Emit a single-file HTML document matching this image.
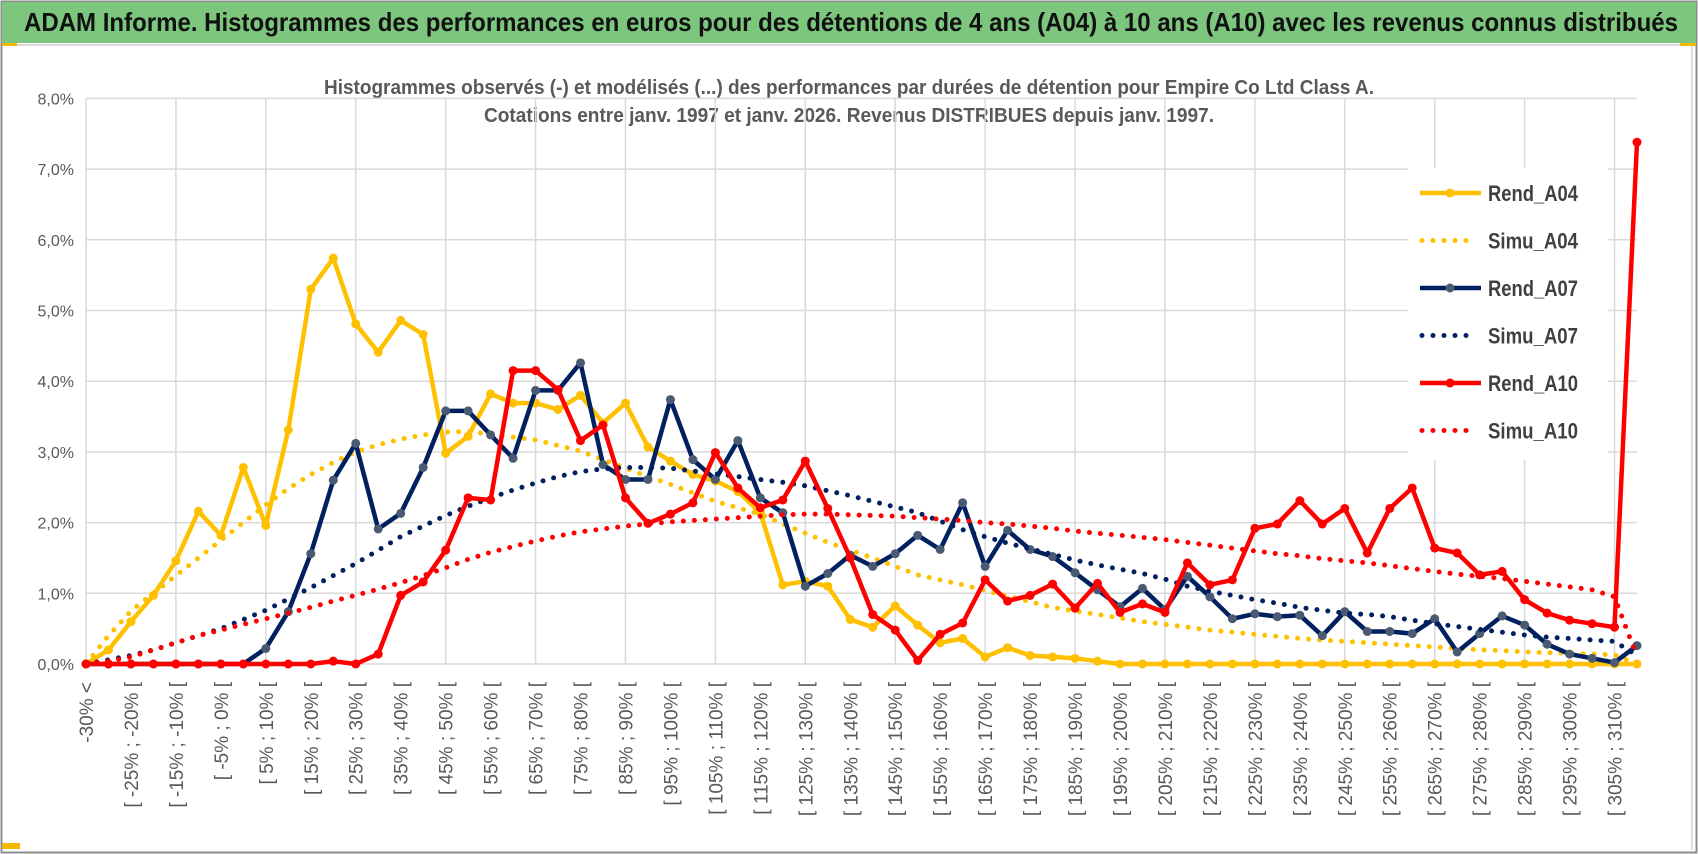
<!DOCTYPE html>
<html><head><meta charset="utf-8"><style>
html,body{margin:0;padding:0;background:#fff;}
svg{display:block;font-family:"Liberation Sans",sans-serif;}
</style></head><body>
<svg id="chart" width="1698" height="854" viewBox="0 0 1698 854">
  <rect x="0" y="0" width="1698" height="854" fill="#fff"/>
  <rect x="1.5" y="1.5" width="1695" height="851" fill="none" stroke="#8c8c8c" stroke-width="2"/>
  <rect x="2" y="2" width="1694" height="41" fill="#7dc67e"/>
  <line x1="2" y1="45" x2="1696" y2="45" stroke="#d9d9d9" stroke-width="2"/>
  <rect x="2" y="43" width="15" height="3" fill="#f5b800"/>
  <rect x="1680" y="43" width="16" height="3" fill="#f5b800"/>
  <rect x="2" y="843" width="18" height="6" fill="#f5b800"/>
  <line x1="1692" y1="46" x2="1692" y2="850" stroke="#bfbfbf" stroke-width="1"/>
  <text x="24" y="31" font-size="26" font-weight="bold" fill="#111" textLength="1654" lengthAdjust="spacingAndGlyphs">ADAM Informe. Histogrammes des performances en euros pour des détentions de 4 ans (A04) à 10 ans (A10) avec les revenus connus distribués</text>
  <text x="849" y="94" font-size="20" font-weight="bold" fill="#595959" text-anchor="middle" textLength="1050" lengthAdjust="spacingAndGlyphs">Histogrammes observés (-) et modélisés (...) des performances par durées de détention pour Empire Co Ltd Class A.</text>
  <text x="849" y="122" font-size="20" font-weight="bold" fill="#595959" text-anchor="middle" textLength="730" lengthAdjust="spacingAndGlyphs">Cotations entre janv. 1997 et janv. 2026. Revenus DISTRIBUES depuis janv. 1997.</text>
  <g id="grid"></g>
  <g id="yticks"></g>
  <g id="xticks"></g>
  <g id="series"></g>
  <g id="legend"></g>
</svg>
<script>
const categories = [];
const yTicks = ["0,0%","1,0%","2,0%","3,0%","4,0%","5,0%","6,0%","7,0%","8,0%"];
const rendA04 = [0,0.2,0.6,0.97,1.46,2.16,1.82,2.78,1.96,3.31,5.3,5.74,4.81,4.41,4.86,4.66,2.98,3.22,3.82,3.69,3.69,3.6,3.8,3.41,3.69,3.07,2.87,2.68,2.59,2.44,2.14,1.12,1.17,1.1,0.63,0.52,0.82,0.55,0.3,0.36,0.1,0.23,0.12,0.1,0.08,0.04,0,0,0,0,0,0,0,0,0,0,0,0,0,0,0,0,0,0,0,0,0,0,0,0];
const simuA04 = [0,0.4,0.75,1.0,1.25,1.5,1.75,2.0,2.25,2.48,2.68,2.85,3.0,3.1,3.18,3.24,3.28,3.29,3.25,3.21,3.17,3.09,3.01,2.89,2.77,2.65,2.54,2.42,2.3,2.21,2.12,1.98,1.85,1.72,1.61,1.5,1.38,1.26,1.19,1.12,1.04,0.96,0.88,0.8,0.75,0.7,0.65,0.6,0.56,0.52,0.48,0.45,0.42,0.39,0.36,0.34,0.32,0.3,0.28,0.26,0.24,0.22,0.2,0.19,0.17,0.16,0.15,0.14,0.13,0.0];
const rendA07 = [0,0,0,0,0,0,0,0,0.22,0.74,1.56,2.6,3.12,1.91,2.13,2.78,3.58,3.58,3.24,2.91,3.87,3.87,4.26,2.82,2.61,2.61,3.74,2.89,2.61,3.16,2.35,2.14,1.1,1.28,1.54,1.38,1.56,1.82,1.62,2.28,1.38,1.89,1.62,1.52,1.29,1.05,0.81,1.07,0.77,1.24,0.95,0.64,0.71,0.67,0.69,0.4,0.74,0.46,0.46,0.43,0.64,0.17,0.43,0.68,0.55,0.28,0.14,0.08,0.02,0.26];
const simuA07 = [0,0.06,0.12,0.2,0.3,0.4,0.5,0.63,0.76,0.92,1.08,1.25,1.42,1.61,1.8,1.95,2.1,2.23,2.35,2.46,2.56,2.65,2.72,2.76,2.78,2.78,2.77,2.73,2.69,2.65,2.61,2.57,2.52,2.45,2.38,2.3,2.22,2.14,2.02,1.9,1.8,1.71,1.63,1.55,1.47,1.4,1.34,1.28,1.2,1.1,1.03,0.97,0.91,0.86,0.8,0.76,0.72,0.7,0.67,0.62,0.57,0.53,0.49,0.45,0.41,0.38,0.36,0.34,0.32,0.12];
const rendA10 = [0,0,0,0,0,0,0,0,0,0,0,0.04,0,0.14,0.97,1.16,1.61,2.35,2.32,4.15,4.15,3.88,3.16,3.38,2.35,1.99,2.12,2.28,2.99,2.49,2.21,2.32,2.87,2.2,1.5,0.7,0.48,0.05,0.42,0.58,1.19,0.89,0.97,1.13,0.79,1.14,0.73,0.85,0.73,1.43,1.12,1.19,1.92,1.98,2.31,1.98,2.2,1.57,2.2,2.49,1.64,1.57,1.26,1.31,0.91,0.72,0.62,0.57,0.52,7.38];
const simuA10 = [0,0.04,0.1,0.2,0.3,0.4,0.48,0.56,0.64,0.72,0.8,0.89,0.97,1.06,1.15,1.25,1.36,1.48,1.58,1.66,1.74,1.81,1.87,1.91,1.95,1.98,2.01,2.03,2.05,2.07,2.09,2.11,2.12,2.12,2.11,2.1,2.09,2.07,2.05,2.03,2.0,1.98,1.95,1.92,1.88,1.85,1.82,1.79,1.76,1.72,1.68,1.64,1.6,1.56,1.53,1.49,1.46,1.43,1.39,1.35,1.31,1.27,1.24,1.21,1.17,1.13,1.09,1.05,0.95,0.1];

categories.push("-30% <");
for (let k = 1; k < 70; k++) categories.push("[ " + (-35 + 5*k) + "% ; " + (-30 + 5*k) + "% [");

const NS = "http://www.w3.org/2000/svg";
const X0 = 86, X1 = 1637, Y0 = 664, PER = 70.7;
function xs(i){ return X0 + (X1 - X0) * i / (categories.length - 1); }
function ys(v){ return Y0 - v * PER; }
function mk(tag, attrs, parent){
  const e = document.createElementNS(NS, tag);
  for (const k in attrs) e.setAttribute(k, attrs[k]);
  parent.appendChild(e);
  return e;
}
const grid = document.getElementById("grid");
const yt = document.getElementById("yticks");
yTicks.forEach((t, i) => {
  const l = mk("line", {x1: X0, x2: X1, y1: ys(i), y2: ys(i), stroke: "#d9d9d9", "stroke-width": 1.5}, grid);
  
  
  const tx = mk("text", {x: 74, y: ys(i) + 6, "font-size": 16, fill: "#595959", "text-anchor": "end"}, yt);
  tx.textContent = t;
  
  
});
for (let i = 0; i < categories.length; i += 4) {
  const l = mk("line", {x1: xs(i), x2: xs(i), y1: ys(8), y2: Y0, stroke: "#d9d9d9", "stroke-width": 1.5}, grid);
  
  
}
const xt = document.getElementById("xticks");
for (let i = 0; i < categories.length; i += 2) {
  const x = xs(i) + 7, y = 682;
  const tx = mk("text", {x: x, y: y, "font-size": 19, fill: "#595959", "text-anchor": "end", transform: "rotate(-90 " + x + " " + y + ")"}, xt);
  tx.textContent = categories[i];
  
  
}
const ser = document.getElementById("series");
function pts(arr){ return arr.map((v, i) => xs(i).toFixed(1) + "," + ys(v).toFixed(1)).join(" "); }
function solid(arr, color, mcolor, name){
  const g = mk("g", {}, ser);
  
  
  const pl = mk("polyline", {points: pts(arr), fill: "none", stroke: color, "stroke-width": 4.5, "stroke-linejoin": "round"}, g);
  
  
  arr.forEach((v, i) => {
    const c = mk("circle", {cx: xs(i), cy: ys(v), r: 4.5, fill: mcolor}, g);
    
    
  });
}
function dotted(arr, color, name){
  const pl = mk("polyline", {points: pts(arr), fill: "none", stroke: color, "stroke-width": 5, "stroke-linecap": "round", "stroke-dasharray": "0 11"}, ser);
  
  
}
solid(rendA04, "#ffc000", "#ffc000", "rend-a04-series");
dotted(simuA04, "#ffc000", "simu-a04-series");
solid(rendA07, "#002060", "#4b5a73", "rend-a07-series");
dotted(simuA07, "#002060", "simu-a07-series");
solid(rendA10, "#ff0000", "#ff0000", "rend-a10-series");
dotted(simuA10, "#ff0000", "simu-a10-series");

const lg = document.getElementById("legend");
const box = mk("rect", {x: 1408, y: 168, width: 200, height: 292, fill: "#fff"}, lg);


const legNames = ["Rend_A04","Simu_A04","Rend_A07","Simu_A07","Rend_A10","Simu_A10"];
const legColors = ["#ffc000","#ffc000","#002060","#002060","#ff0000","#ff0000"];
const legMarker = ["#ffc000",null,"#4b5a73",null,"#ff0000",null];
legNames.forEach((n, i) => {
  const y = 193 + i * 47.5;
  const g = mk("g", {}, lg);
  
  
  if (legMarker[i]) {
    mk("line", {x1: 1420, x2: 1481, y1: y, y2: y, stroke: legColors[i], "stroke-width": 4.5}, g);
    mk("circle", {cx: 1450, cy: y, r: 4.5, fill: legMarker[i]}, g);
  } else {
    mk("line", {x1: 1422, x2: 1472, y1: y, y2: y, stroke: legColors[i], "stroke-width": 5, "stroke-linecap": "round", "stroke-dasharray": "0 11"}, g);
  }
  const t = mk("text", {x: 1488, y: y + 8, "font-size": 22, "font-weight": "bold", fill: "#404040", textLength: 90, lengthAdjust: "spacingAndGlyphs"}, g);
  t.textContent = n;
});
</script>
</body></html>
